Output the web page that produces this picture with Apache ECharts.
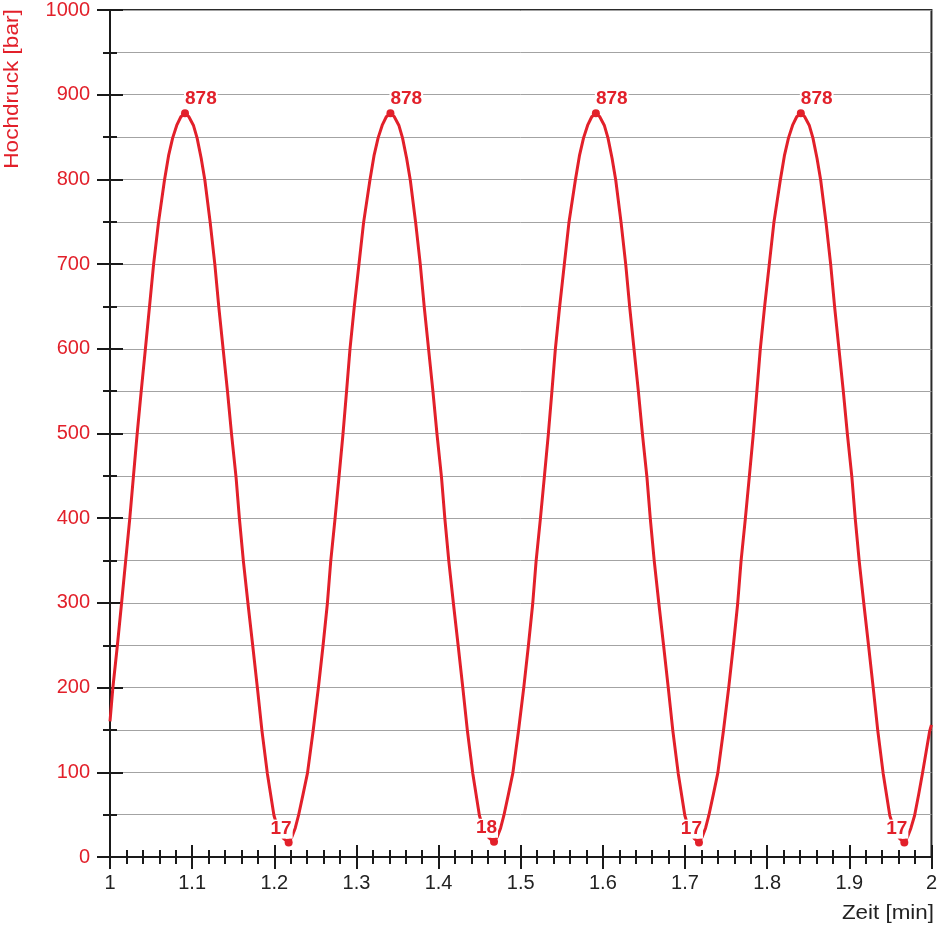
<!DOCTYPE html>
<html>
<head>
<meta charset="utf-8">
<script src="https://cdn.jsdelivr.net/npm/echarts@6/dist/echarts.min.js"></script>
<style>
html,body{margin:0;padding:0;background:#fff;}
#chart{width:940px;height:926px;}
</style>
</head>
<body>
<div id="chart"></div>
<script>
// ---- data ----
var xTickLabels = ['1', '1.1', '1.2', '1.3', '1.4', '1.5', '1.6', '1.7', '1.8', '1.9', '2'];
var yTickLabels = ['0', '100', '200', '300', '400', '500', '600', '700', '800', '900', '1000'];

var cycle1 = [[1.000,160],[1.0035,200],[1.009,250],[1.014,299],[1.019,349],[1.024,399],[1.0285,449],[1.033,499],[1.038,550],[1.043,599],[1.048,649],[1.053,699],[1.059,749],[1.0663,799],[1.0713,828],[1.0763,849],[1.0813,864],[1.0863,874],[1.0913,878],
  [1.096,874],[1.1015,864],[1.106,849],[1.111,825],[1.1155,799],[1.122,749],[1.1277,699],[1.1325,649],[1.1378,599],[1.143,550],[1.148,499],[1.1535,448],[1.1576,399],[1.1624,349],[1.168,299],[1.1737,250],[1.1794,200],[1.185,149],[1.1915,99],[1.1996,49],[1.205,32],[1.211,22],[1.2175,17]];
var cycle2 = [[1.2215,24],[1.2255,34],[1.2295,49],[1.235,74],[1.2404,99],[1.2473,149],[1.2537,200],[1.2594,250],[1.2646,299],[1.2687,349],[1.2739,399],[1.2788,449],[1.2836,499],[1.288,550],[1.2921,599],[1.2973,649],[1.303,699],[1.3087,749],[1.3164,799],[1.3214,828],[1.3264,849],[1.3314,864],[1.3364,874],[1.3414,878],
  [1.3461,874],[1.3516,864],[1.3561,849],[1.3611,825],[1.3656,799],[1.3721,749],[1.3778,699],[1.3826,649],[1.3879,599],[1.3931,550],[1.3981,499],[1.4036,448],[1.4077,399],[1.4125,349],[1.4181,299],[1.4238,250],[1.4295,200],[1.4351,149],[1.4416,99],[1.4497,49],[1.455,32],[1.461,23],[1.4675,18]];
var cycle3 = [[1.4715,24],[1.4755,34],[1.4795,49],[1.485,74],[1.4904,99],[1.4973,149],[1.5037,200],[1.5094,250],[1.5146,299],[1.5187,349],[1.5239,399],[1.5288,449],[1.5336,499],[1.538,550],[1.5421,599],[1.5473,649],[1.553,699],[1.5587,749],[1.5665,799],[1.5715,828],[1.5765,849],[1.5815,864],[1.5865,874],[1.5915,878],
  [1.5962,874],[1.6017,864],[1.6062,849],[1.6112,825],[1.6157,799],[1.6222,749],[1.6279,699],[1.6327,649],[1.638,599],[1.6432,550],[1.6482,499],[1.6537,448],[1.6578,399],[1.6626,349],[1.6682,299],[1.6739,250],[1.6796,200],[1.6852,149],[1.6917,99],[1.6998,49],[1.705,32],[1.711,22],[1.717,17]];
var cycle4 = [[1.721,24],[1.725,34],[1.729,49],[1.7345,74],[1.7399,99],[1.7468,149],[1.7532,200],[1.7589,250],[1.7641,299],[1.7682,349],[1.7734,399],[1.7783,449],[1.7831,499],[1.7875,550],[1.7916,599],[1.7968,649],[1.8025,699],[1.8082,749],[1.816,799],[1.821,828],[1.826,849],[1.831,864],[1.836,874],[1.841,878],
  [1.8457,874],[1.8512,864],[1.8557,849],[1.8607,825],[1.8652,799],[1.8717,749],[1.8774,699],[1.8822,649],[1.8875,599],[1.8927,550],[1.8977,499],[1.9032,448],[1.9073,399],[1.9121,349],[1.9177,299],[1.9234,250],[1.9291,200],[1.9347,149],[1.9412,99],[1.9493,49],[1.955,32],[1.961,22],[1.967,17]];
var tailRise = [[1.971,24],[1.975,34],[1.9795,49],[1.9845,74],[1.9891,99],[1.9935,124],[1.9979,149],[2.0,156]];

var peakTimes = [1.0913, 1.3414, 1.5915, 1.841];
var peakValues = [878, 878, 878, 878];
var minTimes = [1.2175, 1.4675, 1.717, 1.967];
var minValues = [17, 18, 17, 17];

// ---- chart ----
var RED = '#e2202a';
var curve = cycle1.concat(cycle2, cycle3, cycle4, tailRise);
var peaks = peakTimes.map(function (t, i) { return [t, peakValues[i]]; });
var mins = minTimes.map(function (t, i) { return [t, minValues[i]]; });

var FONT = '"Liberation Sans", Arial, Helvetica, sans-serif';

function xAxisBase(inside, showLabel) {
  return {
    type: 'value', position: 'bottom', min: 1, max: 2, interval: 0.1,
    axisLine: { show: true, onZero: false, lineStyle: { color: '#1a1a1a', width: 2 } },
    axisTick: { show: true, inside: inside, length: 12, lineStyle: { color: '#1a1a1a', width: 2 } },
    minorTick: { show: true, splitNumber: 5, length: 7, lineStyle: { color: '#1a1a1a', width: 2 } },
    splitLine: { show: false },
    minorSplitLine: { show: false },
    axisLabel: {
      show: showLabel, margin: 16, color: '#222', fontSize: 20, fontFamily: FONT,
      formatter: function (v) { var i = Math.round((v - 1) * 10); return xTickLabels[i]; }
    }
  };
}
function yAxisBase(inside, main) {
  return {
    type: 'value', position: 'left', min: 0, max: 1000, interval: 100,
    axisLine: { show: true, onZero: false, lineStyle: { color: '#1a1a1a', width: 2 } },
    axisTick: { show: true, inside: inside, length: 13, lineStyle: { color: '#1a1a1a', width: 2 } },
    minorTick: { show: true, splitNumber: 2, length: 7, lineStyle: { color: '#1a1a1a', width: 2 } },
    splitLine: { show: main, lineStyle: { color: '#a3a3a3', width: 1 } },
    minorSplitLine: { show: main, lineStyle: { color: '#a3a3a3', width: 1 } },
    axisLabel: {
      show: main, margin: 20, color: RED, fontSize: 20, fontFamily: FONT,
      formatter: function (v) { return yTickLabels[Math.round(v / 100)]; }
    }
  };
}

var markerLabel = {
  show: true, position: 'top',
  formatter: function (p) { return String(p.value[1]); },
  color: RED, fontSize: 19, fontWeight: 'bold', fontFamily: FONT,
  backgroundColor: '#fff', padding: [0, 1, 0, 1], opacity: 1
};

var chart = echarts.init(document.getElementById('chart'), null, { renderer: 'canvas' });
chart.setOption({
  animation: false,
  backgroundColor: '#fff',
  grid: { left: 110, right: 5, top: 8, bottom: 69, show: true, borderColor: '#2a2a2a', borderWidth: 2, backgroundColor: 'transparent' },
  xAxis: [xAxisBase(false, true), xAxisBase(true, false)],
  yAxis: [yAxisBase(false, true), yAxisBase(true, false)],
  graphic: [
    { type: 'text', x: 12, y: 89, rotation: Math.PI / 2, scaleX: 1.13,
      style: { text: 'Hochdruck [bar]', fill: RED, fontSize: 20, fontFamily: FONT, align: 'center', verticalAlign: 'middle' } },
    { type: 'text', x: 934, y: 913, scaleX: 1.12,
      style: { text: 'Zeit [min]', fill: '#222', fontSize: 20, fontFamily: FONT, align: 'right', verticalAlign: 'middle' } }
  ],
  series: [
    {
      type: 'line', xAxisIndex: 0, yAxisIndex: 0, data: curve,
      showSymbol: false, smooth: false, clip: true,
      lineStyle: { color: RED, width: 3, join: 'round' }, z: 3
    },
    {
      type: 'scatter', xAxisIndex: 0, yAxisIndex: 0, data: peaks,
      symbol: 'circle', symbolSize: 8, itemStyle: { color: RED, opacity: 1 }, z: 4,
      label: Object.assign({}, markerLabel, { align: 'left', distance: 1, offset: [-1, 0] })
    },
    {
      type: 'scatter', xAxisIndex: 0, yAxisIndex: 0, data: mins,
      symbol: 'circle', symbolSize: 8, itemStyle: { color: RED, opacity: 1 }, z: 4,
      label: Object.assign({}, markerLabel, { align: 'right', distance: 0, offset: [4, 0] })
    }
  ]
});
</script>
</body>
</html>
